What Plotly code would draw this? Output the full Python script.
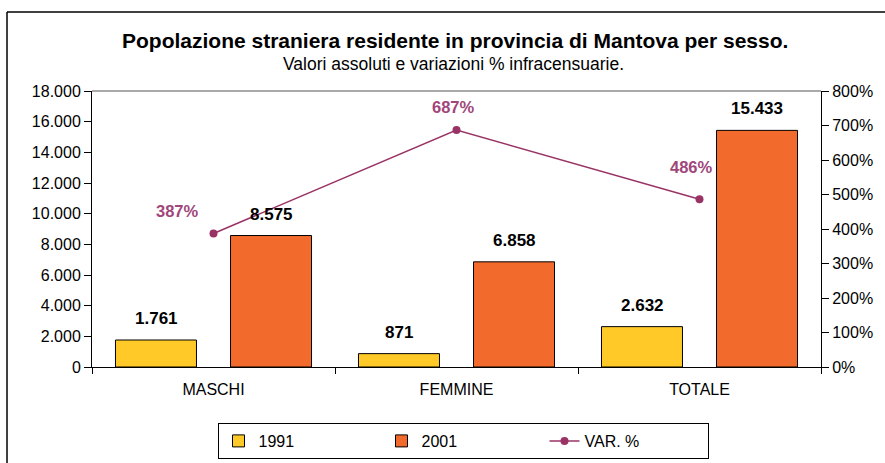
import plotly.graph_objects as go

categories = ["MASCHI", "FEMMINE", "TOTALE"]
values_1991 = [1761, 871, 2632]
values_2001 = [8575, 6858, 15433]
var_pct = [387, 687, 486]
left_ticks = list(range(0, 18001, 2000))
right_ticks = list(range(0, 801, 100))
right_tick_labels = [f"{v}%" for v in right_ticks]

W, H = 885, 463
L, R, T, B = 92, 64, 91, 96
PW, PH = W - L - R, H - T - B

FONT = "Liberation Sans, Arial, sans-serif"
C1991 = "#FFCA28"
C2001 = "#F26B2C"
CVAR = "#993366"

def fmt(v):
    return f"{v:,}".replace(",", ".")

fig = go.Figure()
fig.add_trace(go.Bar(x=categories, y=values_1991, name="1991",
                     marker=dict(color=C1991, line=dict(color="black", width=1))))
fig.add_trace(go.Bar(x=categories, y=values_2001, name="2001",
                     marker=dict(color=C2001, line=dict(color="black", width=1))))
fig.add_trace(go.Scatter(x=categories, y=var_pct, name="VAR. %", yaxis="y2",
                         mode="lines+markers",
                         line=dict(color=CVAR, width=1.5),
                         marker=dict(color=CVAR, size=8)))

annotations = []
# bar value labels
for i, c in enumerate(categories):
    for vals, xs in ((values_1991, -57.5), (values_2001, 57.5)):
        annotations.append(dict(x=c, y=vals[i], xref="x", yref="y", text=f"<b>{fmt(vals[i])}</b>",
                                showarrow=False, xshift=xs, yshift=10, yanchor="bottom",
                                font=dict(family=FONT, size=17, color="black")))
# line labels
line_shifts = [(-36, 22), (-3, 23), (-8, 32)]
for i, c in enumerate(categories):
    dx, dy = line_shifts[i]
    annotations.append(dict(x=c, y=var_pct[i], xref="x", yref="y2", text=f"<b>{var_pct[i]}%</b>",
                            showarrow=False, xshift=dx, yshift=dy,
                            font=dict(family=FONT, size=16.5, color="#A0467A")))
# titles
annotations.append(dict(x=(455 - L) / PW, y=1 + (T - 40) / PH, xref="paper", yref="paper",
                        xanchor="center", yanchor="middle",
                        text="<b>Popolazione straniera residente in provincia di Mantova per sesso.</b>",
                        showarrow=False, font=dict(family=FONT, size=21, color="black")))
annotations.append(dict(x=(453 - L) / PW, y=1 + (T - 64) / PH, xref="paper", yref="paper",
                        xanchor="center", yanchor="middle",
                        text="Valori assoluti e variazioni % infracensuarie.",
                        showarrow=False, font=dict(family=FONT, size=17.5, color="black")))

shapes = [
    # outer chart frame (left and top visible)
    dict(type="line", xref="paper", yref="paper", x0=(7 - L) / PW, x1=(7 - L) / PW,
         y0=1 + (T - 12) / PH, y1=-(H + 20 - T - PH) / PH, line=dict(color="black", width=1.5)),
    dict(type="line", xref="paper", yref="paper", x0=(7 - L) / PW, x1=(W + 20 - L) / PW,
         y0=1 + (T - 12) / PH, y1=1 + (T - 12) / PH, line=dict(color="black", width=1.5)),
    # plot area top border
    dict(type="line", xref="paper", yref="paper", x0=0, x1=1, y0=1, y1=1,
         line=dict(color="#555555", width=1)),
]

fig.update_layout(
    width=W, height=H,
    margin=dict(l=L, r=R, t=T, b=B, autoexpand=False),
    paper_bgcolor="white", plot_bgcolor="white",
    separators=",.",
    barmode="group", bargap=0.053, bargroupgap=0.296,
    font=dict(family=FONT, size=15, color="black"),
    showlegend=True,
    legend=dict(orientation="h", x=(463 - L) / PW, xanchor="center", y=-(423 - T - PH) / PH,
                yanchor="top", bordercolor="black", borderwidth=1, bgcolor="white",
                entrywidth=118, entrywidthmode="pixels",
                font=dict(family=FONT, size=16, color="black"), traceorder="normal"),
    xaxis=dict(showline=True, linecolor="black", linewidth=1, ticks="outside", tickson="boundaries",
               ticklen=6, tickcolor="black", showgrid=False, ticklabelstandoff=8,
               tickfont=dict(family=FONT, size=16)),
    yaxis=dict(range=[0, 18000], tickvals=left_ticks, tickformat=",d", showline=True,
               linecolor="black", linewidth=1, ticks="outside", ticklen=7, tickcolor="black",
               showgrid=False, zeroline=False, tickfont=dict(family=FONT, size=16)),
    yaxis2=dict(range=[0, 800], tickvals=right_ticks, ticktext=right_tick_labels,
                overlaying="y", side="right",
                showline=True, linecolor="black", linewidth=1, ticks="outside", ticklen=7,
                tickcolor="black", showgrid=False, zeroline=False,
                tickfont=dict(family=FONT, size=16)),
    annotations=annotations,
    shapes=shapes,
)

fig.write_html("out.html", config={"displayModeBar": False},
               post_script="document.body.style.margin='0px';document.body.style.overflow='hidden';")
